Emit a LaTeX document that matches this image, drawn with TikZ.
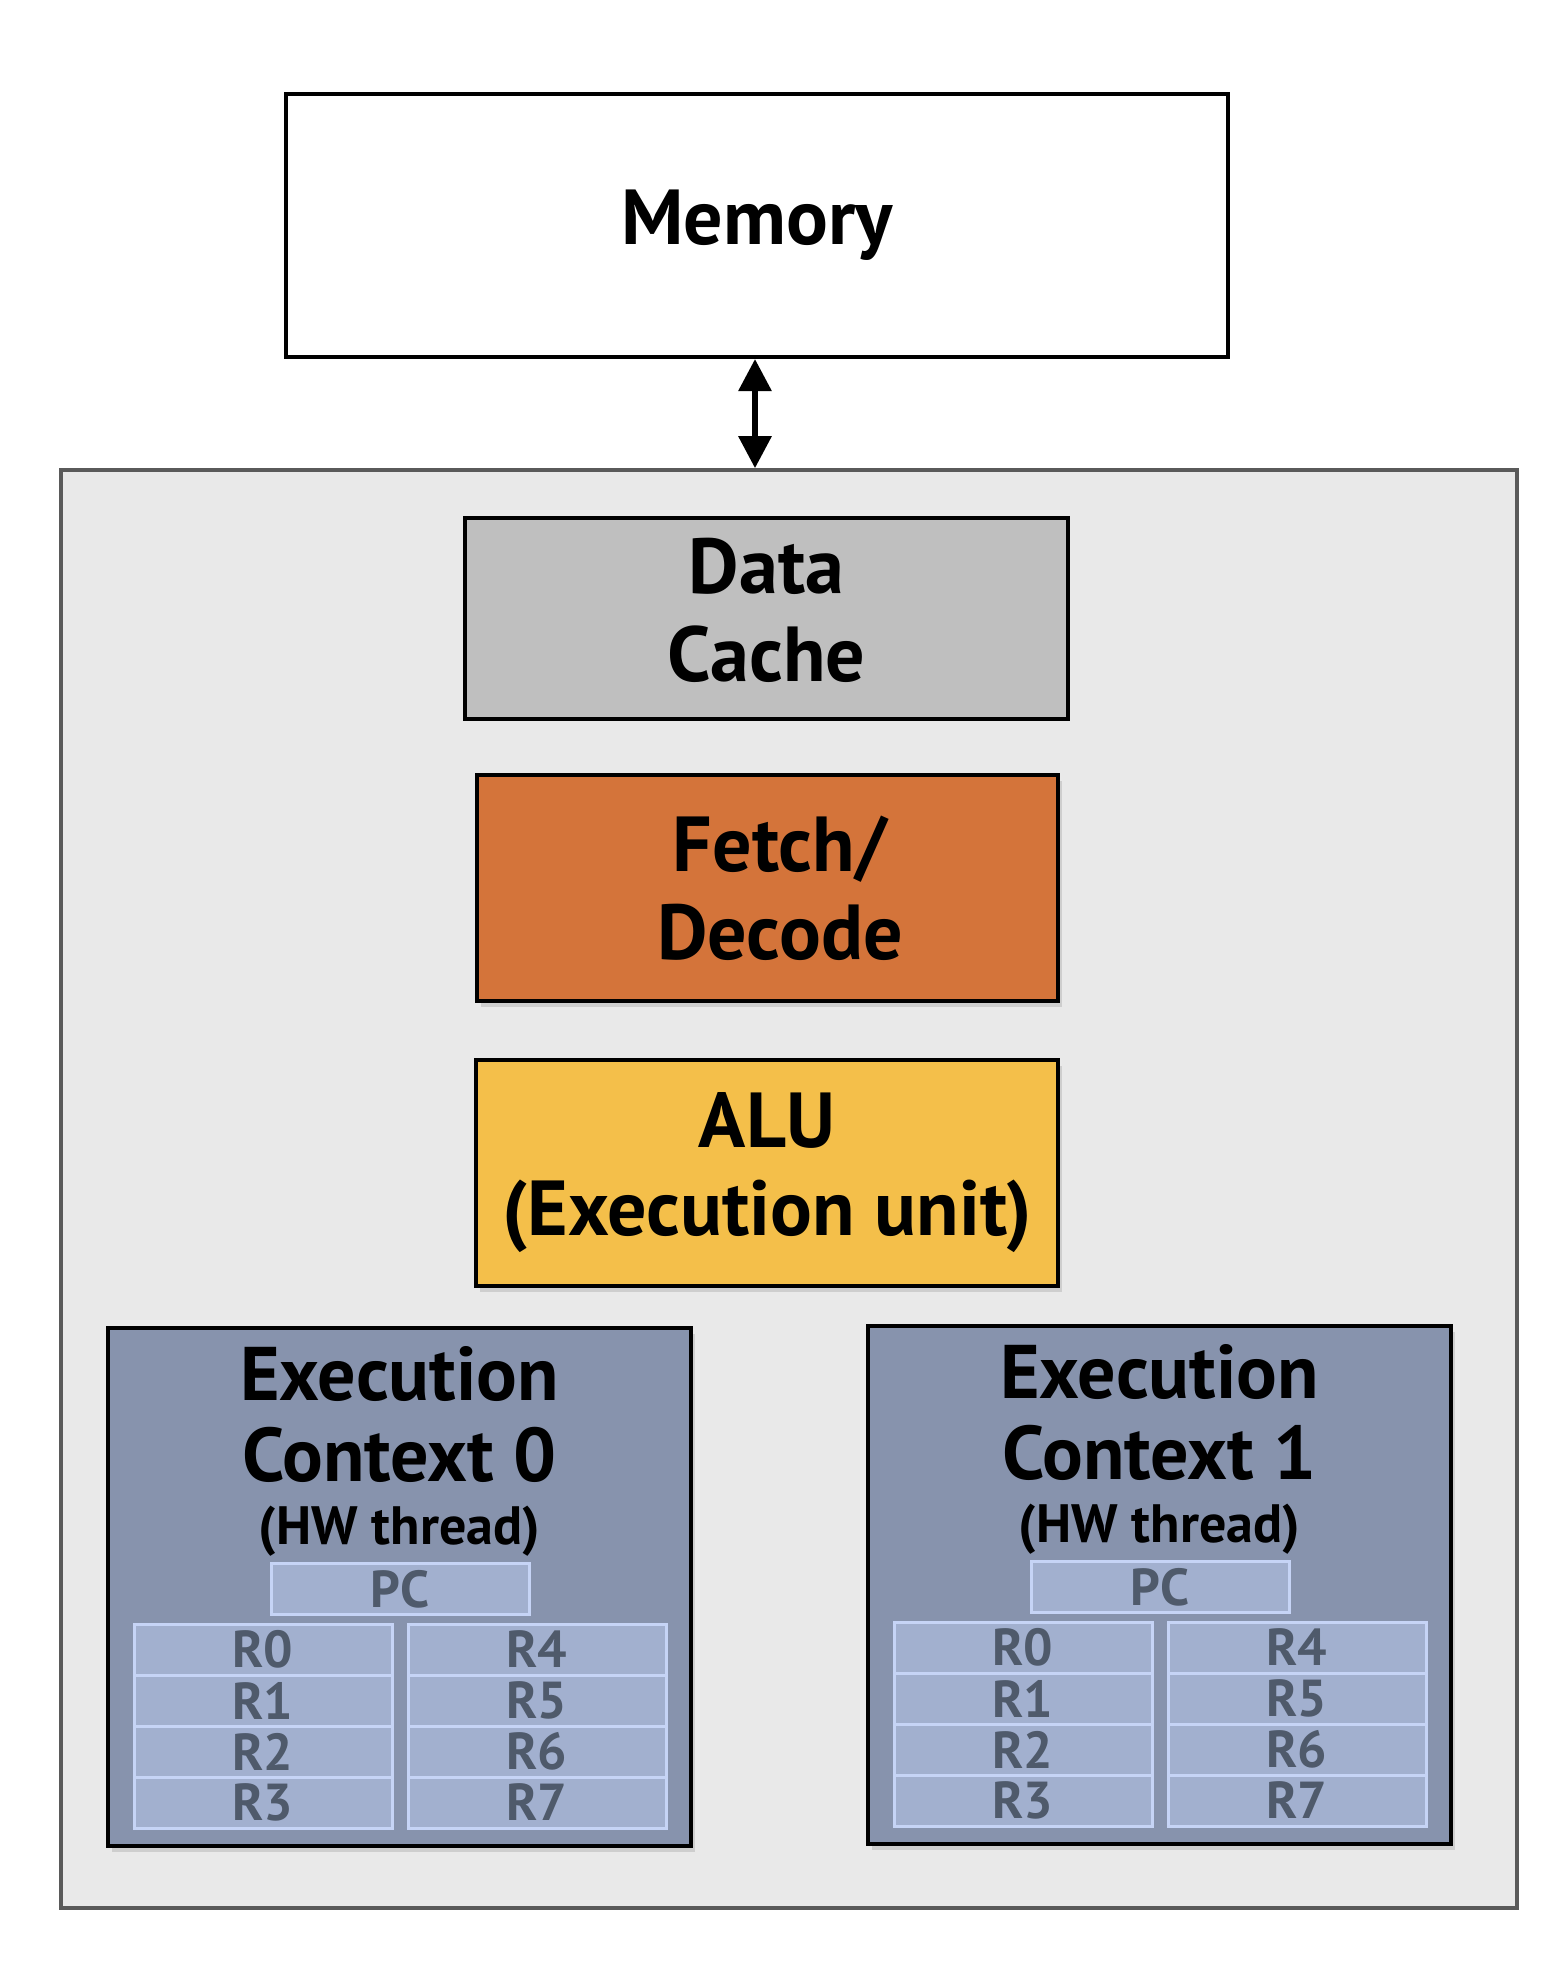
\documentclass[tikz,border=0pt]{standalone}
\usepackage{fontspec}
\setmainfont{PT Sans}
\usetikzlibrary{arrows.meta,shadows}
\definecolor{corebg}{HTML}{E9E9E9}
\definecolor{coreline}{HTML}{5A5A5A}
\definecolor{cachefill}{HTML}{BFBFBF}
\definecolor{fetchfill}{HTML}{D4743A}
\definecolor{alufill}{HTML}{F4BF4A}
\definecolor{ctxfill}{HTML}{8793AD}
\definecolor{regfill}{HTML}{A2B0CF}
\definecolor{regline}{HTML}{C6D4F6}
\definecolor{regtext}{HTML}{4F5A6B}
\begin{document}
\begin{tikzpicture}[x=0.5pt,y=-0.5pt]
  \tikzset{font={\fontsize{39pt}{44pt}\selectfont\bfseries}}
  \tikzset{unit/.style={draw=black,line width=2pt,inner sep=0pt,align=center},
    shade/.style={drop shadow={shadow xshift=2pt,shadow yshift=-3pt,opacity=.25}},
    title/.style={anchor=base,font={\fontsize{38pt}{38pt}\selectfont\bfseries}},
    reg/.style={draw=regline,fill=regfill,line width=1.5pt,minimum width=129pt,
      minimum height=25.5pt,inner sep=0pt,text=regtext,
      font={\fontsize{26pt}{26pt}\selectfont\bfseries}}}
  \useasboundingbox (0,0) rectangle (1568,1966);
  \node[unit,minimum width=471pt,minimum height=131.5pt] (mem) at (757,225.5) {Memory};
  \node[draw=coreline,fill=corebg,line width=1.8pt,minimum width=728pt,
    minimum height=719pt] (core) at (789,1189) {};
  \coordinate (bus) at (755,0);
  \draw[{Triangle[length=16pt,width=16pt]}-{Triangle[length=16pt,width=16pt]},line width=3pt]
    (mem.south -| bus) -- (core.north -| bus);
  \node[unit,fill=cachefill,minimum width=301.5pt,minimum height=100.5pt] (cache) at (766.5,618.5) {};
  \node[align=center] (cachetxt) at (766.5,610) {Data\\Cache};
  \node[unit,fill=fetchfill,shade,minimum width=290.5pt,minimum height=113pt] (fetch) at (767.5,888) {};
  \node[align=center] (fetchtxt) at (780,888) {Fetch/\\Decode};
  \node[unit,fill=alufill,shade,minimum width=291pt,minimum height=113pt] (alu) at (767,1173) {ALU\\(Execution unit)};
  % execution contexts
  \foreach \c/\lx/\ty in {0/108/1328,1/868/1326} {
    \node[draw=black,fill=ctxfill,line width=2pt,shade,inner sep=0pt,minimum width=291.5pt,
      minimum height=259pt] (ctx\c) at (\lx+291.5,\ty+259) {};
    \node[title] (ctx\c a) at (\lx+291.5,\ty+72) {Execution};
    \node[title] (ctx\c b) at (\lx+291.5,\ty+153) {Context \c};
    \node[title,font={\fontsize{27pt}{27pt}\selectfont\bfseries}] (ctx\c c) at (\lx+291.5,\ty+216) {(HW thread)};
    \node[reg] (pc\c) at (\lx+292,\ty+261) {PC};
    \foreach \r in {0,...,3} {
      \pgfmathtruncatemacro\rr{\r+4}
      \node[reg] (r\c\r) at (\lx+155,\ty+321.5+51*\r) {R\r};
      \node[reg] (r\c\rr) at (\lx+429,\ty+321.5+51*\r) {R\rr};
    }
  }
\end{tikzpicture}
\end{document}
